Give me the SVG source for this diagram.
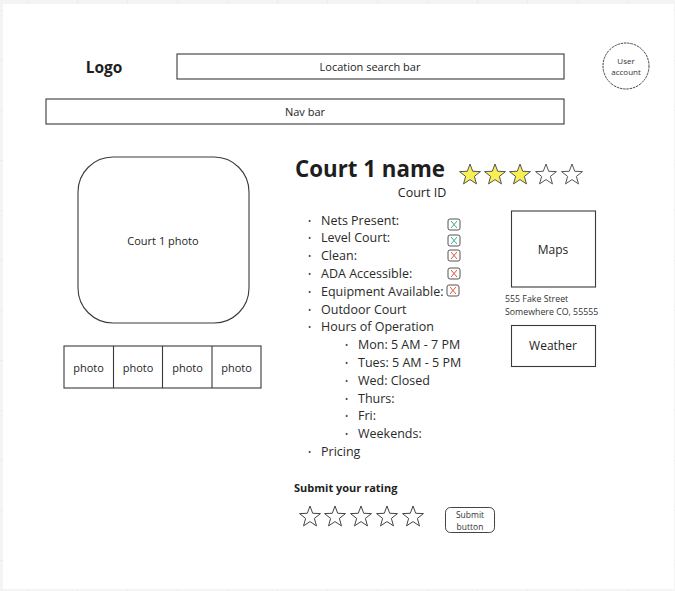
<svg xmlns="http://www.w3.org/2000/svg" width="675" height="591" viewBox="0 0 675 591">
<style>
text{font-family:"Open Sans","Liberation Sans",sans-serif;fill:#1e1e1e}
.box{fill:#fff;stroke:#3a3a3a;stroke-width:1.1}
.lbl{font-size:11px;text-anchor:middle}
.li{font-size:12.5px;fill:#2a2a2a}
.bul{font-size:8.5px;fill:#444}
.chk{fill:#fff;stroke:#555;stroke-width:1}
.xg{stroke:#3fa88c;stroke-width:1;fill:none}
.xr{stroke:#e0553b;stroke-width:1;fill:none}
.small{font-size:8.5px;fill:#333}
.addr{font-size:8.8px;fill:#333}
.acct{font-size:8px;fill:#333;text-anchor:middle}
</style>
<defs>
<pattern id="grid" x="27" y="10" width="50" height="50" patternUnits="userSpaceOnUse">
<path d="M0 0V50M0 0H50" stroke="#e6e6e6" stroke-width="1" fill="none"/>
</pattern>
<path id="star" d="M0,-11 L2.7,-3.72 L10.46,-3.4 L4.37,1.42 L6.47,8.9 L0,4.6 L-6.47,8.9 L-4.37,1.42 L-10.46,-3.4 L-2.7,-3.72Z"/>
</defs>
<rect width="675" height="591" fill="#f4f4f4"/>
<rect width="675" height="591" fill="url(#grid)"/>
<rect x="3" y="4" width="671" height="585" fill="#fff"/>

<g id="logo"><text x="104" y="73" font-size="15.5" font-weight="bold" text-anchor="middle">Logo</text></g>
<g id="search"><rect class="box" x="177" y="54" width="387" height="25"/><text class="lbl" x="370" y="71">Location search bar</text></g>
<g id="user"><circle cx="626" cy="66" r="23" fill="#fff" stroke="#444" stroke-width="1" stroke-dasharray="2.5 0.8"/><text class="acct" x="626" y="64">User</text><text class="acct" x="626" y="75">account</text></g>
<g id="nav"><rect class="box" x="46" y="99" width="518" height="25"/><text class="lbl" x="305" y="116">Nav bar</text></g>

<g id="photo-main"><rect class="box" x="78" y="157" width="171" height="166" rx="35" stroke="#555"/><text class="lbl" x="163" y="245">Court 1 photo</text></g>
<g id="photos">
<rect class="box" x="64" y="346" width="197" height="42"/>
<path d="M113.5 346V388M162.5 346V388M212 346V388" stroke="#3a3a3a" stroke-width="1.1"/>
<text class="lbl" x="88.5" y="372">photo</text>
<text class="lbl" x="138" y="372">photo</text>
<text class="lbl" x="187.5" y="372">photo</text>
<text class="lbl" x="236.5" y="372">photo</text>
</g>

<g id="title"><text x="295" y="177" font-size="22.3" font-weight="bold" fill="#222">Court 1 name</text>
<text x="422" y="197" font-size="12.5" text-anchor="middle" fill="#2a2a2a">Court ID</text></g>
<g id="rating" stroke="#555" stroke-width="1">
<use href="#star" x="470" y="175" fill="#f7ef55"/>
<use href="#star" x="495" y="175" fill="#f7ef55"/>
<use href="#star" x="520" y="175" fill="#f7ef55"/>
<use href="#star" x="546" y="175" fill="#fff"/>
<use href="#star" x="572" y="175" fill="#fff"/>
</g>

<g id="list">
<text class="bul" x="308" y="223.5">•</text><text class="li" x="321" y="224.5">Nets Present:</text>
<text class="bul" x="308" y="241.3">•</text><text class="li" x="321" y="242.3">Level Court:</text>
<text class="bul" x="308" y="259.1">•</text><text class="li" x="321" y="260.1">Clean:</text>
<text class="bul" x="308" y="276.9">•</text><text class="li" x="321" y="277.9">ADA Accessible:</text>
<text class="bul" x="308" y="294.7">•</text><text class="li" x="321" y="295.7">Equipment Available:</text>
<text class="bul" x="308" y="312.5">•</text><text class="li" x="321" y="313.5">Outdoor Court</text>
<text class="bul" x="308" y="330.3">•</text><text class="li" x="321" y="331.3">Hours of Operation</text>
<text class="bul" x="345" y="348.1">•</text><text class="li" x="358" y="349.1">Mon: 5 AM - 7 PM</text>
<text class="bul" x="345" y="365.9">•</text><text class="li" x="358" y="366.9">Tues: 5 AM - 5 PM</text>
<text class="bul" x="345" y="383.7">•</text><text class="li" x="358" y="384.7">Wed: Closed</text>
<text class="bul" x="345" y="401.5">•</text><text class="li" x="358" y="402.5">Thurs:</text>
<text class="bul" x="345" y="419.3">•</text><text class="li" x="358" y="420.3">Fri:</text>
<text class="bul" x="345" y="437.1">•</text><text class="li" x="358" y="438.1">Weekends:</text>
<text class="bul" x="308" y="454.9">•</text><text class="li" x="321" y="455.9">Pricing</text>
</g>

<g id="checks">
<rect class="chk" x="448" y="219" width="12" height="11" rx="2"/><path class="xg" d="M451 221L457 228M457 221L451 228"/>
<rect class="chk" x="448" y="235" width="12" height="11" rx="2"/><path class="xg" d="M451 237L457 244M457 237L451 244"/>
<rect class="chk" x="448" y="250" width="12" height="11" rx="2"/><path class="xr" d="M451 252L457 259M457 252L451 259"/>
<rect class="chk" x="448" y="268" width="12" height="11" rx="2"/><path class="xr" d="M451 270L457 277M457 270L451 277"/>
<rect class="chk" x="447" y="285" width="12" height="11" rx="2"/><path class="xr" d="M450 287L456 294M456 287L450 294"/>
</g>

<g id="maps"><rect class="box" x="511.5" y="211" width="84" height="76"/><text x="553" y="254" font-size="12" text-anchor="middle">Maps</text></g>
<g id="address"><text class="addr" x="505" y="302">555 Fake Street</text><text class="addr" x="505" y="315">Somewhere CO, 55555</text></g>
<g id="weather"><rect class="box" x="511.5" y="325.5" width="84" height="41"/><text x="553" y="350" font-size="12" text-anchor="middle">Weather</text></g>

<g id="submit-rating">
<text x="294" y="492" font-size="11" font-weight="bold">Submit your rating</text>
<g stroke="#444" stroke-width="1" fill="#fff">
<use href="#star" x="310" y="517"/>
<use href="#star" x="335" y="517"/>
<use href="#star" x="361" y="517"/>
<use href="#star" x="387" y="517"/>
<use href="#star" x="413" y="517"/>
</g>
</g>
<g id="submit-button"><rect x="445.5" y="507.5" width="49" height="25" rx="5" fill="#fff" stroke="#444" stroke-width="1"/>
<text class="small" x="470" y="517.5" text-anchor="middle">Submit</text><text class="small" x="470" y="529.5" text-anchor="middle">button</text></g>
<g id="connectors"></g>
</svg>
